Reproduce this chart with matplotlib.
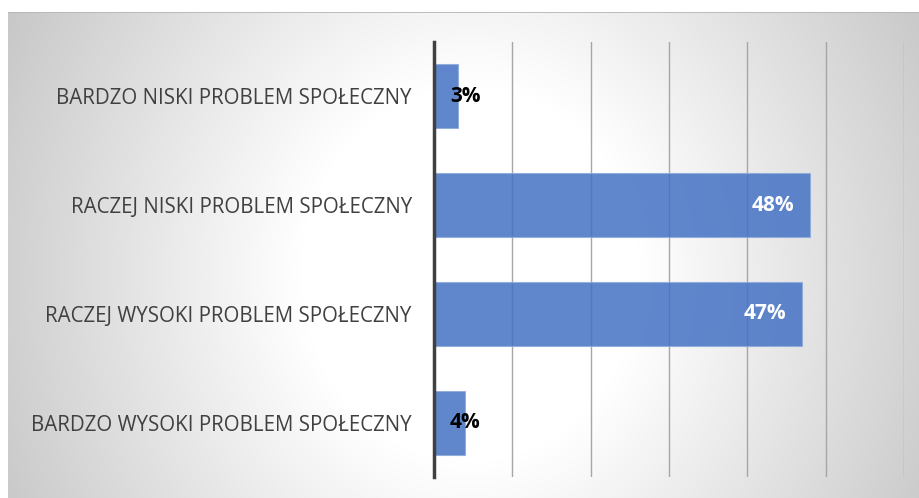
import numpy as np
import matplotlib.pyplot as plt

categories = ["BARDZO WYSOKI PROBLEM SPOŁECZNY", "RACZEJ WYSOKI PROBLEM SPOŁECZNY",
              "RACZEJ NISKI PROBLEM SPOŁECZNY", "BARDZO NISKI PROBLEM SPOŁECZNY"]
values = [4, 47, 48, 3]
ticks = [0, 10, 20, 30, 40, 50, 60]

plt.rcParams['font.family'] = ['Open Sans', 'DejaVu Sans']

W, H = 919, 498
fig = plt.figure(figsize=(W / 100, H / 100), dpi=100)
fig.patch.set_facecolor('white')

# radial gradient panel
bg = fig.add_axes([8 / W, 0, (W - 8) / W, (H - 12) / H])
bg.set_axis_off()
yy, xx = np.mgrid[0:486, 0:911]
cx, cy = 462, 262
d = np.hypot(xx - cx, (yy - cy) * 0.9)
t = np.clip((d - 170) / 400, 0, 1)
g = 1 - 0.25 * t
bg.imshow(np.dstack([g, g, g]), aspect='auto', extent=(0, 1, 0, 1), origin='upper')
bg.set_xlim(0, 1)
bg.set_ylim(0, 1)
bg.plot([0, 1], [0.999, 0.999], color='#b4b4b4', lw=1.2)

ax = fig.add_axes([434 / W, 21 / H, 470 / W, 435 / H])
ax.patch.set_alpha(0)
y = np.arange(len(categories))
ax.barh(y, values, height=0.59, color='#4472c4', alpha=0.85,
        edgecolor='#8faadc', linewidth=0.8, zorder=3)
ax.set_xlim(0, 60)
ax.set_ylim(-0.5, 3.5)
ax.set_xticks(ticks)
ax.xaxis.grid(True, color='#a6a6a6', lw=1)
ax.tick_params(axis='x', length=0, labelbottom=False)
ax.tick_params(axis='y', length=0, pad=16, labelsize=14.8, labelcolor='#404040')
ax.set_yticks(y)
ax.set_yticklabels(categories)
for s in ['top', 'right', 'bottom']:
    ax.spines[s].set_visible(False)
ax.spines['left'].set_color('#404040')
ax.spines['left'].set_linewidth(2.5)
ax.spines['left'].set_zorder(4)

for yi, v in zip(y, values):
    if v > 10:
        ax.annotate(f"{v}%", (v, yi), xytext=(-11.5, 0), textcoords='offset points',
                    ha='right', va='center', color='white', fontsize=15,
                    fontweight='bold', zorder=5)
    else:
        ax.annotate(f"{v}%", (0, yi), xytext=(11.5, 0), textcoords='offset points',
                    ha='left', va='center', color='black', fontsize=15,
                    fontweight='bold', zorder=5)

fig.savefig('out.png', dpi=100)
